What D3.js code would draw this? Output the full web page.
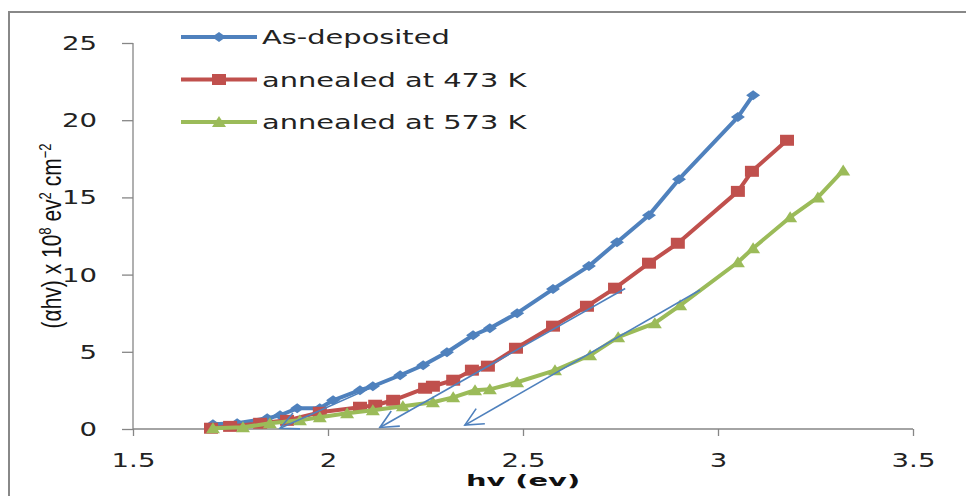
<!DOCTYPE html>
<html>
<head>
<meta charset="utf-8">
<script src="https://cdn.jsdelivr.net/npm/d3@7"></script>
<style>
  body { margin: 0; background: #fff; }
  svg { display: block; }
  .tick-label { font-family: "DejaVu Sans", Verdana, sans-serif; font-size: 19px; fill: #222; }
  .legend-label { font-family: "DejaVu Sans", Verdana, sans-serif; font-size: 19px; fill: #222; }
</style>
</head>
<body>
<div id="chart"></div>
<script>
// values: photon energy (eV) and (αhv) x 10^8
const seriesNames = ["As-deposited", "annealed at 473 K", "annealed at 573 K"];

const asDepositedX = [1.705, 1.767, 1.844, 1.877, 1.921, 1.979, 2.013, 2.082, 2.115, 2.185, 2.244, 2.305, 2.372, 2.415, 2.485, 2.577, 2.669, 2.741, 2.823, 2.900, 3.051, 3.090];
const asDepositedY = [0.30, 0.37, 0.69, 0.89, 1.34, 1.34, 1.86, 2.51, 2.77, 3.48, 4.13, 4.97, 6.07, 6.53, 7.50, 9.06, 10.55, 12.10, 13.85, 16.18, 20.20, 21.62];

const annealed473X = [1.700, 1.749, 1.826, 1.895, 1.979, 2.082, 2.121, 2.167, 2.249, 2.269, 2.321, 2.369, 2.410, 2.482, 2.577, 2.664, 2.736, 2.823, 2.897, 3.051, 3.087, 3.177];
const annealed473Y = [0.05, 0.17, 0.37, 0.56, 1.08, 1.41, 1.54, 1.86, 2.64, 2.77, 3.16, 3.81, 4.07, 5.23, 6.66, 7.95, 9.12, 10.74, 12.03, 15.39, 16.69, 18.70];

const annealed573X = [1.705, 1.782, 1.851, 1.928, 1.979, 2.049, 2.115, 2.192, 2.269, 2.321, 2.377, 2.415, 2.485, 2.582, 2.672, 2.744, 2.838, 2.903, 3.051, 3.090, 3.185, 3.256, 3.321];
const annealed573Y = [0.05, 0.11, 0.37, 0.56, 0.76, 1.02, 1.21, 1.47, 1.73, 2.05, 2.51, 2.57, 3.03, 3.80, 4.78, 5.95, 6.85, 8.01, 10.80, 11.71, 13.72, 15.00, 16.75];

// tangent extrapolation arrows: [tailX, tailY, headX, headY]
const tangentArrows = [
    [2.255, 4.30, 1.877, 0.05],
    [2.762, 9.10, 2.133, 0.10],
    [2.954, 9.00, 2.351, 0.25]
];

const xTicks = [1.5, 2, 2.5, 3, 3.5];
const yTicks = [0, 5, 10, 15, 20, 25];

const colors = ["#4F81BD", "#C0504D", "#9BBB59"];
const markers = ["diamond", "square", "triangle"];

const series = [
    { name: seriesNames[0], xs: asDepositedX, ys: asDepositedY },
    { name: seriesNames[1], xs: annealed473X, ys: annealed473Y },
    { name: seriesNames[2], xs: annealed573X, ys: annealed573Y }
].map((s, i) => ({
    ...s,
    color: colors[i],
    marker: markers[i],
    points: s.xs.map((v, j) => ({ x: v, y: s.ys[j] }))
}));

const width = 966;
const height = 496;
const stretch = 1.45; // the reference text is drawn wide

const x = d3.scaleLinear().domain([1.5, 3.5]).range([133, 913]);
const y = d3.scaleLinear().domain([0, 25]).range([429, 43]);

const markerPath = type => {
    if (type === "diamond") return "M0,-5L7,0L0,5L-7,0Z";
    if (type === "square") return "M-7,-5.5H7V5.5H-7Z";
    return "M0,-6L7,5H-7Z";
};

const svg = d3.select("#chart")
    .append("svg")
    .attr("width", width)
    .attr("height", height);

// outer chart frame (only top and left edges are inside the picture)
svg.append("rect")
    .attr("x", 9)
    .attr("y", 12)
    .attr("width", 1000)
    .attr("height", 600)
    .attr("fill", "none")
    .attr("stroke", "#888")
    .attr("stroke-width", 2);

const yAxis = svg.append("g")
    .attr("transform", `translate(${x(1.5)},0)`)
    .call(d3.axisLeft(y).tickValues(yTicks).tickSize(11).tickFormat(d3.format("d")));

yAxis.selectAll("text")
    .attr("class", "tick-label")
    .attr("x", 0)
    .attr("dy", null)
    .attr("dominant-baseline", "central")
    .attr("transform", `translate(-36,0) scale(${stretch},1)`);

const xAxis = svg.append("g")
    .attr("transform", `translate(0,${y(0)})`)
    .call(d3.axisBottom(x).tickValues(xTicks).tickSize(7).tickFormat(d => String(d)));

xAxis.selectAll("text")
    .attr("class", "tick-label")
    .attr("y", 0)
    .attr("dy", null)
    .attr("transform", `translate(0,38) scale(${stretch},1)`);

svg.selectAll(".domain, .tick line").attr("stroke", "#868686").attr("stroke-width", 1.3);
svg.selectAll(".tick text").attr("fill", "#222").attr("font-family", null).attr("font-size", null);
xAxis.select(".domain").attr("d", `M${x(1.5)},0H${x(3.5)}`);
yAxis.select(".domain").attr("d", `M0,${y(25)}V${y(0)}`);

// axis titles
svg.append("text")
    .attr("transform", `translate(${(x(1.5) + x(3.5)) / 2},486) scale(1.75,1)`)
    .attr("text-anchor", "middle")
    .attr("font-family", "DejaVu Sans, Verdana, sans-serif")
    .attr("font-weight", "bold")
    .attr("font-size", 16.5)
    .attr("fill", "#111")
    .text("hv (ev)");

const yTitle = svg.append("text")
    .attr("transform", `translate(61,236) rotate(-90) scale(1,1.3)`)
    .attr("text-anchor", "middle")
    .attr("font-family", "Liberation Sans, Arial, sans-serif")
    .attr("font-size", 21)
    .attr("fill", "#111");
yTitle.append("tspan").text("(αhv) x 10");
yTitle.append("tspan").attr("font-size", 13).attr("dy", -8).text("8");
yTitle.append("tspan").attr("dy", 8).text(" ev");
yTitle.append("tspan").attr("font-size", 13).attr("dy", -8).text("2");
yTitle.append("tspan").attr("dy", 8).text(" cm");
yTitle.append("tspan").attr("font-size", 13).attr("dy", -8).text("−2");

// data lines and markers
const line = d3.line().x(d => x(d.x)).y(d => y(d.y));

const groups = svg.append("g")
    .selectAll("g")
    .data(series)
    .join("g");

groups.append("path")
    .attr("d", d => line(d.points))
    .attr("fill", "none")
    .attr("stroke", d => d.color)
    .attr("stroke-width", 4)
    .attr("stroke-linejoin", "round");

groups.selectAll(".marker")
    .data(d => d.points.map(p => ({ ...p, color: d.color, marker: d.marker })))
    .join("path")
    .attr("class", "marker")
    .attr("d", d => markerPath(d.marker))
    .attr("transform", d => `translate(${x(d.x)},${y(d.y)})`)
    .attr("fill", d => d.color);

// tangent arrows with open heads
const arrowGroup = svg.append("g")
    .attr("stroke", "#4F81BD")
    .attr("stroke-width", 1.6)
    .attr("fill", "none");

tangentArrows.forEach(([tx, ty, hx, hy]) => {
    const x1 = x(tx), y1 = y(ty), x2 = x(hx), y2 = y(hy);
    arrowGroup.append("line")
        .attr("x1", x1).attr("y1", y1)
        .attr("x2", x2).attr("y2", y2);
    const angle = Math.atan2(y1 - y2, x1 - x2);
    const len = 20;
    const spread = 0.45;
    const wing = a => `${x2 + len * Math.cos(a)},${y2 + len * Math.sin(a)}`;
    arrowGroup.append("path")
        .attr("d", `M${wing(angle - spread)}L${x2},${y2}L${wing(angle + spread)}`);
});

// legend
const legend = svg.append("g")
    .selectAll("g")
    .data(series)
    .join("g")
    .attr("transform", (_, i) => `translate(181,${37 + i * 42.5})`);

legend.append("line")
    .attr("x1", 0).attr("x2", 76)
    .attr("stroke", d => d.color)
    .attr("stroke-width", 4);

legend.append("path")
    .attr("d", d => markerPath(d.marker))
    .attr("transform", "translate(38,0)")
    .attr("fill", d => d.color);

legend.append("text")
    .attr("class", "legend-label")
    .attr("transform", "translate(81,7) scale(1.52,1)")
    .text(d => d.name);
</script>
</body>
</html>
